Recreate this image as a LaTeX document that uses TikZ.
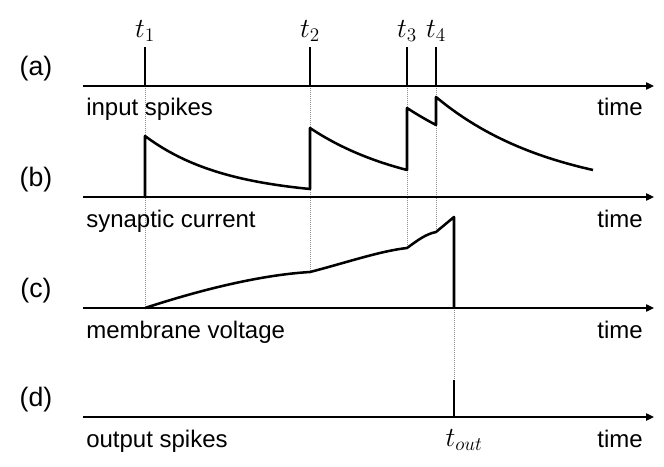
\documentclass[tikz,border=0pt]{standalone}
\usepackage{fontspec}
\setmainfont{Liberation Sans}
\usepackage{tikz}
\usetikzlibrary{calc,positioning,arrows.meta}
\tikzset{
  timeaxis/.style={-{Triangle[length=6pt, width=5.5pt]}, line width=1pt},
  spike/.style={line width=2.2pt},
  trace/.style={line width=1.9pt, line join=round},
  guide/.style={densely dotted, black!45, line width=0.5pt},
  lbl/.style={font=\fontsize{18}{20}\selectfont, inner sep=0pt},
  taglbl/.style={lbl, font=\fontsize{20}{22}\selectfont},
  tlbl/.style={lbl, font=\fontsize{21}{23}\selectfont}
}

\begin{document}
\begin{tikzpicture}[x=0.75pt, y=-0.75pt]
  \useasboundingbox (0,0) rectangle (664,467);
  % dotted guides behind everything
  \draw[guide] (145,86) -- (145,308);
  \draw[guide] (310,86) -- (310,272);
  \draw[guide] (407,86) -- (407,248);
  \draw[guide] (436,86) -- (436,232);
  \draw[guide] (454,308) -- (454,380);
  % the four time axes
  \foreach \row/\y/\name in {a/86/input spikes, b/197/synaptic current, c/308/membrane voltage, d/417/output spikes} {
    \coordinate (ax\row) at (83,\y);
    \draw[timeaxis] (ax\row) -- (654,\y) coordinate (end\row);
    \node[lbl, anchor=base west] (name\row) at (86,\y+30) {\name};
    \node[lbl, anchor=base east] (time\row) at (643,\y+30) {time};
    \node[taglbl] (tag\row) at (36,\y-17) {(\row)};
  }
  % (a) input spikes
  \foreach \k/\x in {1/145, 2/310, 3/407, 4/436} {
    \draw[spike] (\x,86) -- (\x,47) coordinate (top\k);
    \node[tlbl] (t\k) at (\x,31) {$t_\k$};
  }
  % (b) synaptic current
  \draw[trace] (145,197) -- (145,136)
    -- plot[domain=145:310, samples=30] (\x,{197-61*exp(-2.031*(\x-145)/165)})
    -- (310,128)
    -- plot[domain=310:407, samples=25] (\x,{197-69*exp(-0.938*(\x-310)/97)})
    -- (407,108)
    -- plot[domain=407:436, samples=10] (\x,{197-89*exp(-0.212*(\x-407)/29)})
    -- (436,97)
    -- plot[domain=436:593, samples=30] (\x,{197-100*exp(-1.309*(\x-436)/157)});
  % (c) membrane voltage
  \draw[trace] (145,308) .. controls (200,290) and (260,275) .. (310,272)
    .. controls (345,263) and (380,251) .. (407,248)
    .. controls (418,240) and (426,234) .. (436,232)
    -- (454,217) -- (454,308);
  % (d) output spike
  \draw[spike] (454,417) -- (454,380) coordinate (topout);
  \node[tlbl] (tout) at (464,440) {$t_{out}$};
\end{tikzpicture}
\end{document}
